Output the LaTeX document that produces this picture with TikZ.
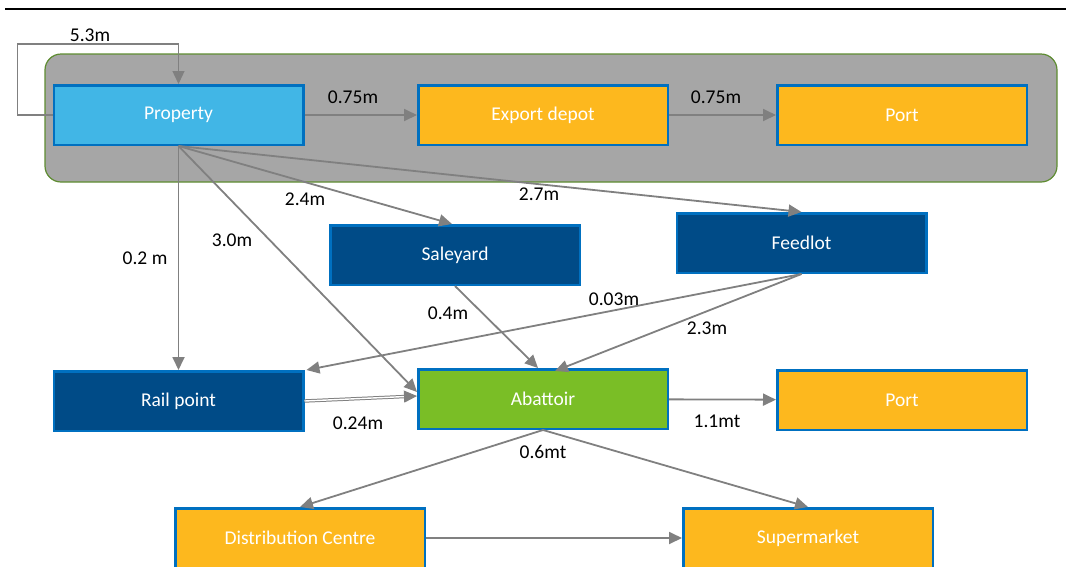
\documentclass[tikz,border=0pt]{standalone}
\usepackage{fontspec}
\setmainfont{Carlito}
\usepackage{tikz}
\usetikzlibrary{arrows.meta,positioning,calc}
\definecolor{chainsky}{RGB}{65,182,230}
\definecolor{chainblue}{RGB}{0,112,192}
\definecolor{chainnavy}{RGB}{0,75,135}
\definecolor{chainorange}{RGB}{253,184,30}
\definecolor{chaingreen}{RGB}{122,190,38}
\definecolor{chaingray}{RGB}{166,166,166}
\definecolor{chainolive}{RGB}{94,140,49}
\definecolor{arrowgray}{RGB}{128,128,128}

\begin{document}
\begin{tikzpicture}[
    x=1pt, y=-1pt,
    box/.style={rectangle, draw=chainblue, line width=2.5pt, minimum width=249.5pt, minimum height=59.5pt, align=center, text=white, font=\fontsize{19.5}{22}\selectfont},
    lbl/.style={font=\fontsize{19.5}{22}\selectfont, inner sep=0pt},
    arrow/.style={->, draw=arrowgray, line width=1.8pt, >={Triangle[length=13pt,width=12pt]}}
]
    \useasboundingbox (0,0) rectangle (1066,566);
    \draw[line width=2pt] (5,8.5) -- (1066,8.5);

    % Export group
    \draw[fill=chaingray, draw=chainolive, line width=1.2pt, rounded corners=16pt] (45,54) rectangle (1057,182);

    % Top row
    \node[box, fill=chainsky] (property) at (178.5,115) {Property};
    \node[box, fill=chainorange] (depot) at (543,115) {Export depot};
    \node[box, fill=chainorange] (port) at (902,115) {Port};

    % Middle rows
    \node[box, fill=chainnavy] (saleyard) at (455,255) {Saleyard};
    \node[box, fill=chainnavy] (feedlot) at (801.5,243) {Feedlot};
    \node[box, fill=chainnavy] (rail) at (178.5,401) {Rail point};
    \node[box, fill=chaingreen] (abattoir) at (543,399) {Abattoir};
    \node[box, fill=chainorange] (portb) at (902,400) {Port};

    % Bottom row
    \node[box, fill=chainorange] (dc) at (300,538) {Distribution Centre};
    \node[box, fill=chainorange] (market) at (808,538) {Supermarket};

    % Arrows
    \draw[arrow, line width=1.4pt] (property.west) -- ++(-35,0) |- ([yshift=40pt]property.north) -- (property.north);
    \draw[arrow] (property) -- (depot);
    \draw[arrow] (depot) -- (port);
    \draw[arrow] (property.south) -- (rail.north);
    \draw[arrow] (property.south) -- ([yshift=7pt]abattoir.west);
    \draw[arrow] (property.south) -- ([xshift=-3pt]saleyard.north);
    \draw[arrow] (property.south) -- (feedlot.north);
    \draw[arrow] (saleyard.south) -- ([xshift=-5pt]abattoir.north);
    \draw[arrow] (feedlot.south) -- ([xshift=12pt,yshift=-3pt]abattoir.north);
    \draw[arrow] (feedlot.south) -- ([xshift=2pt]rail.north east);
    \draw[arrow, double=white, double distance=1.4pt, line width=1pt] (rail.east) -- ([yshift=3pt]abattoir.west);
    \draw[arrow] (abattoir) -- (portb);
    \draw[arrow] (abattoir.south) -- (dc.north);
    \draw[arrow] (abattoir.south) -- (market.north);
    \draw[arrow] (dc) -- (market);

    % Labels
    \node[lbl] (l1) at (90,35) {5.3m};
    \node[lbl] (l2) at (353,97) {0.75m};
    \node[lbl] (l3) at (716,97) {0.75m};
    \node[lbl] (l4) at (305,199) {2.4m};
    \node[lbl] (l5) at (539,194) {2.7m};
    \node[lbl] (l6) at (145,258) {0.2 m};
    \node[lbl] (l7) at (232,240) {3.0m};
    \node[lbl] (l8) at (448,313) {0.4m};
    \node[lbl] (l9) at (614,299) {0.03m};
    \node[lbl] (l10) at (707,328) {2.3m};
    \node[lbl] (l11) at (358,423) {0.24m};
    \node[lbl] (l12) at (717,421) {1.1mt};
    \node[lbl] (l13) at (543,452) {0.6mt};
\end{tikzpicture}
\end{document}
